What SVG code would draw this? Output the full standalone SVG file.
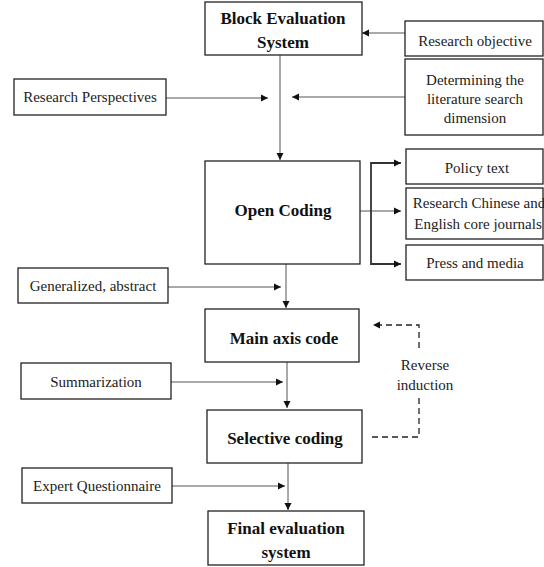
<svg xmlns="http://www.w3.org/2000/svg" width="544" height="567" viewBox="0 0 544 567">
<style>
.box{fill:#fff;stroke:#222;stroke-width:1.3}
.t{font-size:15px;fill:#222;text-anchor:middle;dominant-baseline:central}
.b{font-size:17px;font-weight:bold;fill:#111;text-anchor:middle;dominant-baseline:central}
.ln{fill:none;stroke:#555;stroke-width:1}
.dk{fill:none;stroke:#333;stroke-width:1.8}
.ds{fill:none;stroke:#222;stroke-width:1.3;stroke-dasharray:6,4}
</style>
<defs>
<marker id="ah" markerWidth="8" markerHeight="8" refX="7" refY="4" orient="auto" markerUnits="userSpaceOnUse">
<path d="M0,0.5 L7,4 L0,7.5 Z" fill="#111"/>
</marker>
</defs>
<rect width="544" height="567" fill="#fff"/>
<g id="connectors">
<line class="ln" x1="405" y1="33" x2="362" y2="33" marker-end="url(#ah)"/>
<line class="ln" x1="405" y1="97" x2="292" y2="97" marker-end="url(#ah)"/>
<line class="ln" x1="166" y1="98" x2="268" y2="98" marker-end="url(#ah)"/>
<line class="ln" x1="280" y1="55" x2="280" y2="160" marker-end="url(#ah)"/>
<line class="ln" x1="360" y1="211" x2="401" y2="211" marker-end="url(#ah)"/>
<path class="dk" d="M401,163 H371 V264 H401"/>
<line class="ln" x1="395" y1="163" x2="401" y2="163" marker-end="url(#ah)"/>
<line class="ln" x1="395" y1="264" x2="401" y2="264" marker-end="url(#ah)"/>
<line class="ln" x1="286" y1="264" x2="286" y2="308" marker-end="url(#ah)"/>
<line class="ln" x1="168" y1="287" x2="281" y2="287" marker-end="url(#ah)"/>
<line class="ln" x1="287" y1="362" x2="287" y2="408" marker-end="url(#ah)"/>
<line class="ln" x1="171" y1="382" x2="283" y2="382" marker-end="url(#ah)"/>
<line class="ln" x1="288" y1="463" x2="288" y2="510" marker-end="url(#ah)"/>
<line class="ln" x1="172" y1="486" x2="285" y2="486" marker-end="url(#ah)"/>
<path class="ds" d="M419,348 V325 H373" marker-end="url(#ah)"/>
<path class="ds" d="M419,398 V437 H371"/>
</g>
<g font-family="Liberation Serif, Times New Roman, DejaVu Serif, serif">
<g id="block-evaluation">
<rect class="box" x="205" y="2" width="157" height="53"/>
<text class="b" x="283" y="18">Block Evaluation</text>
<text class="b" x="283" y="42">System</text>
</g>
<g id="research-objective">
<rect class="box" x="405" y="21" width="138" height="35"/>
<text class="t" x="475" y="41">Research objective</text>
</g>
<g id="determining">
<rect class="box" x="405" y="59" width="138" height="76"/>
<text class="t" x="475" y="80">Determining the</text>
<text class="t" x="475" y="99">literature search</text>
<text class="t" x="475" y="118">dimension</text>
</g>
<g id="research-perspectives">
<rect class="box" x="14" y="79" width="152" height="36"/>
<text class="t" x="90" y="97">Research Perspectives</text>
</g>
<g id="open-coding">
<rect class="box" x="205" y="161" width="155" height="103"/>
<text class="b" x="283" y="210">Open Coding</text>
</g>
<g id="policy-text">
<rect class="box" x="406" y="149" width="137" height="35"/>
<text class="t" x="477" y="168">Policy text</text>
</g>
<g id="research-journals">
<rect class="box" x="406" y="188" width="137" height="51"/>
<text class="t" x="479" y="203">Research Chinese and</text>
<text class="t" x="478" y="224">English core journals</text>
</g>
<g id="press-media">
<rect class="box" x="406" y="245" width="137" height="35"/>
<text class="t" x="475" y="263">Press and media</text>
</g>
<g id="generalized">
<rect class="box" x="18" y="268" width="150" height="35"/>
<text class="t" x="93" y="286">Generalized, abstract</text>
</g>
<g id="main-axis">
<rect class="box" x="205" y="309" width="154" height="53"/>
<text class="b" x="284" y="338">Main axis code</text>
</g>
<g id="summarization">
<rect class="box" x="21" y="363" width="150" height="36"/>
<text class="t" x="96" y="382">Summarization</text>
</g>
<g id="reverse-induction">
<text class="t" x="425" y="365">Reverse</text>
<text class="t" x="425" y="385">induction</text>
</g>
<g id="selective-coding">
<rect class="box" x="207" y="410" width="155" height="53"/>
<text class="b" x="285" y="438">Selective coding</text>
</g>
<g id="expert-questionnaire">
<rect class="box" x="22" y="468" width="150" height="35"/>
<text class="t" x="97" y="486">Expert Questionnaire</text>
</g>
<g id="final-evaluation">
<rect class="box" x="208" y="511" width="156" height="54"/>
<text class="b" x="286" y="528">Final evaluation</text>
<text class="b" x="286" y="552">system</text>
</g>
</g>
</svg>
